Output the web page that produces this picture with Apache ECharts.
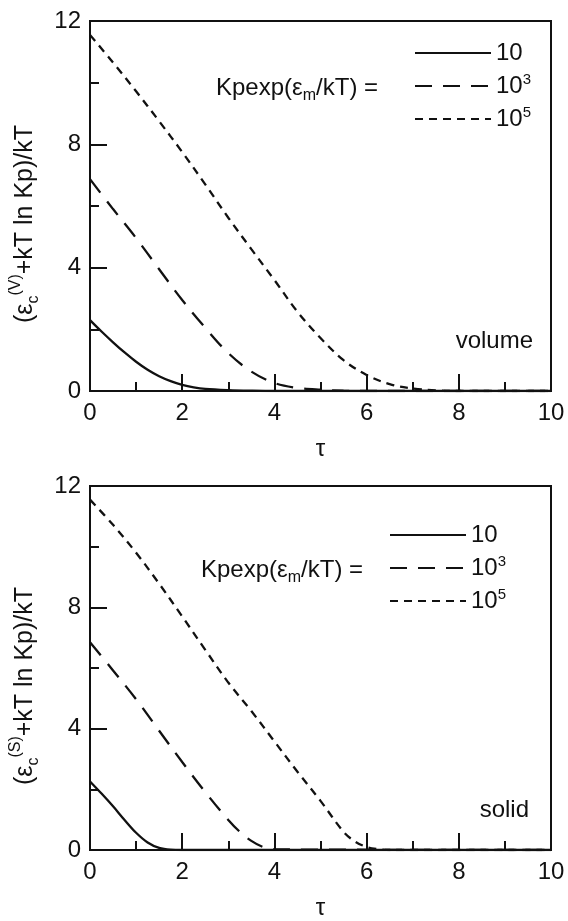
<!DOCTYPE html>
<html>
<head>
<meta charset="utf-8">
<script src="https://cdn.jsdelivr.net/npm/echarts@6/dist/echarts.min.js"></script>
<style>
  html, body { margin: 0; padding: 0; background: #fff; }
  #chart { width: 568px; height: 921px; }
</style>
</head>
<body>
<div id="chart"></div>
<script>
// volume panel
const tauV10 = [0, 0.25, 0.5, 0.75, 1, 1.25, 1.5, 1.75, 2, 2.25, 2.5, 3, 3.5, 4, 10];
const valV10 = [2.3, 1.93, 1.58, 1.25, 0.95, 0.69, 0.48, 0.32, 0.2, 0.12, 0.07, 0.03, 0.01, 0, 0];
const tauV1e3 = [0, 0.5, 1, 1.5, 2, 2.5, 3, 3.5, 4, 4.5, 5, 5.5, 6, 10];
const valV1e3 = [6.87, 5.9, 4.96, 3.95, 2.95, 2.05, 1.23, 0.63, 0.26, 0.1, 0.04, 0.01, 0, 0];
const tauV1e5 = [0, 0.5, 1, 1.5, 2, 2.5, 3, 3.5, 4, 4.5, 5, 5.5, 6, 6.5, 7, 7.5, 8, 10];
const valV1e5 = [11.55, 10.65, 9.72, 8.75, 7.75, 6.7, 5.62, 4.6, 3.6, 2.57, 1.72, 1.0, 0.52, 0.22, 0.08, 0.02, 0, 0];

// solid panel
const tauS10 = [0, 0.25, 0.5, 0.75, 1, 1.25, 1.5, 1.75, 2, 10];
const valS10 = [2.26, 1.86, 1.44, 0.99, 0.57, 0.25, 0.07, 0.01, 0, 0];
const tauS1e3 = [0, 0.5, 1, 1.5, 2, 2.5, 3, 3.25, 3.5, 3.75, 4, 10];
const valS1e3 = [6.85, 5.92, 4.97, 3.93, 2.9, 1.91, 0.99, 0.6, 0.3, 0.1, 0.02, 0];
const tauS1e5 = [0, 0.5, 1, 1.5, 2, 2.5, 3, 3.5, 4, 4.5, 5, 5.5, 5.75, 6, 6.25, 6.5, 10];
const valS1e5 = [11.55, 10.72, 9.8, 8.78, 7.7, 6.6, 5.52, 4.58, 3.58, 2.58, 1.62, 0.6, 0.28, 0.1, 0.03, 0, 0];

const seriesNames = ['10', '10^3', '10^5'];
const legendLabels = ['10', '10{sup|3}', '10{sup|5}'];
const xTicks = { min: 0, max: 10, interval: 2 };
const yTicks = { min: 0, max: 12, interval: 4 };

const FONT = 'Liberation Sans, Arial, sans-serif';
const INK = '#111';
const dashStyles = ['solid', [17, 11], [8, 6]];

const pairs = (xs, ys) => xs.map((x, i) => [x, ys[i]]);

function makeSeries(gridIdx, data) {
    return data.map((d, i) => ({
        name: seriesNames[i],
        type: 'line',
        xAxisIndex: gridIdx,
        yAxisIndex: gridIdx,
        data: d,
        smooth: 0.35,
        symbol: 'none',
        silent: true,
        lineStyle: { color: INK, width: 2.3, type: dashStyles[i] },
        itemStyle: { color: INK }
    }));
}

function xAxis(gridIdx) {
    return Object.assign({
        type: 'value',
        gridIndex: gridIdx,
        name: 'τ',
        nameLocation: 'middle',
        nameGap: 46,
        nameTextStyle: { fontFamily: FONT, fontSize: 24, color: INK },
        axisLine: { lineStyle: { color: INK, width: 2 } },
        axisTick: { inside: true, length: 17, lineStyle: { color: INK, width: 2 } },
        minorTick: { show: true, splitNumber: 2, length: 9, lineStyle: { color: INK, width: 2 } },
        splitLine: { show: false },
        axisLabel: { fontFamily: FONT, fontSize: 24, color: INK, margin: 10 }
    }, xTicks);
}

function yAxis(gridIdx, tag) {
    return Object.assign({
        type: 'value',
        gridIndex: gridIdx,
        name: '{t|(ε}{sub|c}{sup|(' + tag + ')}{t|+kT ln Kp)/kT}',
        nameLocation: 'middle',
        nameGap: 48,
        nameRotate: 90,
        nameTextStyle: {
            fontFamily: FONT, color: INK,
            padding: [0, 36, 0, 0],
            rich: {
                t: { fontFamily: FONT, fontSize: 25, lineHeight: 34, color: INK },
                sub: { fontFamily: FONT, fontSize: 16, lineHeight: 16, verticalAlign: 'bottom', color: INK },
                sup: { fontFamily: FONT, fontSize: 16, lineHeight: 16, verticalAlign: 'top', color: INK }
            }
        },
        axisLine: { lineStyle: { color: INK, width: 2 } },
        axisTick: { inside: true, length: 17, lineStyle: { color: INK, width: 2 } },
        minorTick: { show: true, splitNumber: 2, length: 9, lineStyle: { color: INK, width: 2 } },
        splitLine: { show: false },
        axisLabel: { fontFamily: FONT, fontSize: 24, color: INK, margin: 9 }
    }, yTicks);
}

function legend(left, top) {
    return {
        left: left, top: top,
        orient: 'vertical',
        padding: 0,
        itemGap: 5,
        itemWidth: 76,
        itemHeight: 14,
        selectedMode: false,
        data: seriesNames,
        itemStyle: { opacity: 0 },
        formatter: name => legendLabels[seriesNames.indexOf(name)],
        textStyle: {
            fontFamily: FONT, fontSize: 24, lineHeight: 28, color: INK,
            rich: { sup: { fontFamily: FONT, fontSize: 15, lineHeight: 15, verticalAlign: 'top', color: INK } }
        }
    };
}

function caption(text, x, y, align) {
    return {
        type: 'text',
        x: x, y: y,
        silent: true,
        style: {
            text: text,
            align: align,
            verticalAlign: 'middle',
            fill: INK,
            font: '24px ' + FONT,
            rich: {
                sub: { fontFamily: FONT, fontSize: 16, lineHeight: 16, verticalAlign: 'bottom', fill: INK },
                t: { fontFamily: FONT, fontSize: 24, lineHeight: 32, fill: INK }
            }
        }
    };
}

const chart = echarts.init(document.getElementById('chart'), null, { renderer: 'canvas' });

chart.setOption({
    backgroundColor: '#fff',
    animation: false,
    grid: [
        { left: 87, top: 21, width: 464, height: 370, show: true, borderColor: INK, borderWidth: 2, backgroundColor: 'transparent' },
        { left: 84, top: 486, width: 467, height: 368, show: true, borderColor: INK, borderWidth: 2, backgroundColor: 'transparent' }
    ],
    xAxis: [xAxis(0), xAxis(1)],
    yAxis: [yAxis(0, 'V'), yAxis(1, 'S')],
    legend: [legend(414, 39), legend(389, 521)],
    graphic: [
        caption('{t|Kpexp(ε}{sub|m}{t|/kT) =}', 216, 88, 'left'),
        caption('{t|Kpexp(ε}{sub|m}{t|/kT) =}', 201, 570, 'left'),
        caption('volume', 533, 341, 'right'),
        caption('solid', 529, 810, 'right')
    ],
    series: [].concat(
        makeSeries(0, [pairs(tauV10, valV10), pairs(tauV1e3, valV1e3), pairs(tauV1e5, valV1e5)]),
        makeSeries(1, [pairs(tauS10, valS10), pairs(tauS1e3, valS1e3), pairs(tauS1e5, valS1e5)])
    )
});
</script>
</body>
</html>
